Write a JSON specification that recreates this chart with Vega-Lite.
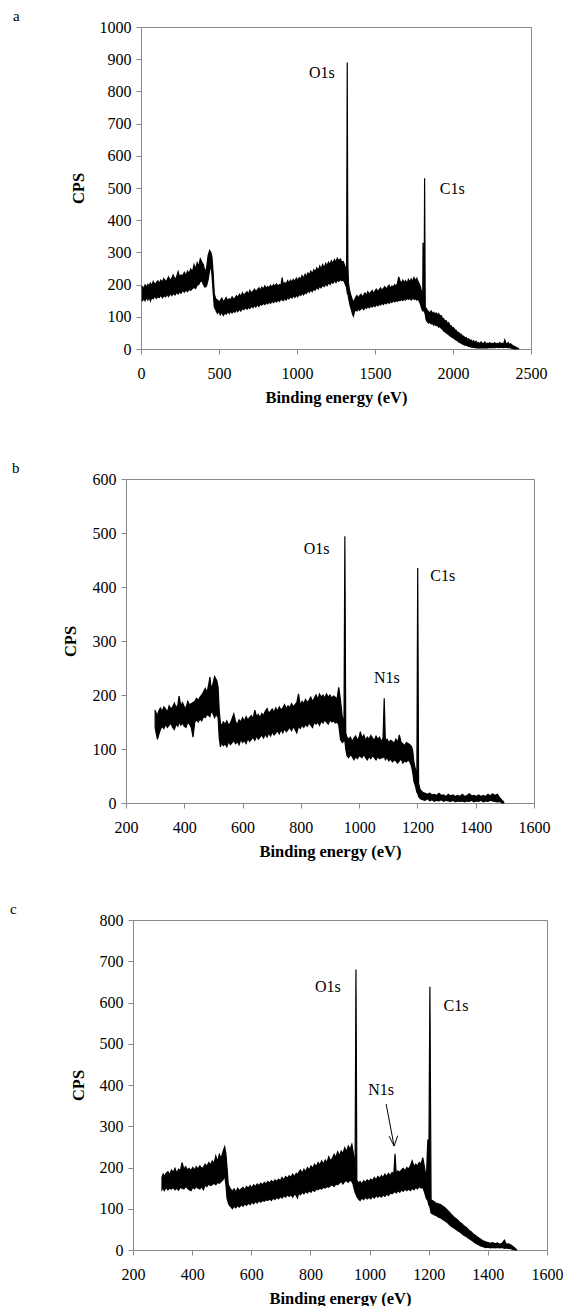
{
  "$schema": "https://vega.github.io/schema/vega-lite/v6.json",
  "background": "white",
  "padding": {"left": 10, "top": 9, "right": 0, "bottom": 0},
  "config": {
    "font": "Liberation Serif",
    "view": {"stroke": null},
    "axis": {
      "grid": false,
      "domainColor": "#898989",
      "tickColor": "#898989",
      "domainWidth": 1,
      "tickWidth": 1,
      "tickSize": 5,
      "labelFont": "Liberation Serif",
      "labelFontSize": 16,
      "labelColor": "#000000",
      "labelFlush": false,
      "labelOverlap": false,
      "titleFont": "Liberation Serif",
      "titleFontSize": 16.5,
      "titleFontWeight": "bold",
      "titleColor": "#000000"
    },
    "title": {"font": "Liberation Serif", "fontSize": 15, "fontWeight": "normal", "color": "#000000"}
  },
  "datasets": {
    "surveyA": [
      {"eV":8,"low":148,"high":196},{"eV":18,"low":158,"high":186},{"eV":26,"low":150,"high":199},{"eV":35,"low":160,"high":192},
      {"eV":44,"low":152,"high":201},{"eV":52,"low":163,"high":196},{"eV":60,"low":149,"high":205},{"eV":70,"low":160,"high":197},
      {"eV":78,"low":156,"high":210},{"eV":90,"low":165,"high":200},{"eV":98,"low":157,"high":206},{"eV":108,"low":162,"high":212},
      {"eV":118,"low":160,"high":203},{"eV":126,"low":168,"high":214},{"eV":138,"low":159,"high":208},{"eV":146,"low":166,"high":219},
      {"eV":158,"low":162,"high":210},{"eV":168,"low":171,"high":215},{"eV":176,"low":163,"high":224},{"eV":188,"low":172,"high":212},
      {"eV":198,"low":166,"high":221},{"eV":206,"low":174,"high":230},{"eV":218,"low":168,"high":216},{"eV":228,"low":176,"high":224},
      {"eV":238,"low":171,"high":240},{"eV":248,"low":179,"high":222},{"eV":256,"low":173,"high":230},{"eV":268,"low":182,"high":228},
      {"eV":278,"low":176,"high":238},{"eV":288,"low":184,"high":228},{"eV":298,"low":178,"high":242},{"eV":308,"low":186,"high":234},
      {"eV":318,"low":182,"high":248},{"eV":330,"low":188,"high":240},{"eV":340,"low":192,"high":262},{"eV":350,"low":188,"high":248},
      {"eV":360,"low":198,"high":268},{"eV":370,"low":200,"high":256},{"eV":380,"low":210,"high":280},{"eV":390,"low":212,"high":270},
      {"eV":400,"low":200,"high":262},{"eV":410,"low":192,"high":240},{"eV":420,"low":196,"high":250},{"eV":430,"low":215,"high":290},
      {"eV":440,"low":245,"high":306},{"eV":448,"low":260,"high":300},{"eV":455,"low":230,"high":285},{"eV":462,"low":180,"high":240},
      {"eV":470,"low":130,"high":170},{"eV":480,"low":120,"high":155},{"eV":490,"low":110,"high":152},{"eV":500,"low":118,"high":146},
      {"eV":508,"low":106,"high":150},{"eV":518,"low":114,"high":158},{"eV":528,"low":104,"high":147},{"eV":538,"low":112,"high":153},
      {"eV":546,"low":108,"high":160},{"eV":556,"low":116,"high":150},{"eV":566,"low":110,"high":156},{"eV":574,"low":118,"high":152},
      {"eV":584,"low":112,"high":162},{"eV":594,"low":118,"high":155},{"eV":602,"low":114,"high":158},{"eV":612,"low":122,"high":166},
      {"eV":620,"low":116,"high":160},{"eV":632,"low":124,"high":170},{"eV":640,"low":118,"high":162},{"eV":650,"low":126,"high":175},
      {"eV":660,"low":122,"high":166},{"eV":668,"low":128,"high":172},{"eV":680,"low":124,"high":178},{"eV":690,"low":130,"high":170},
      {"eV":698,"low":126,"high":182},{"eV":708,"low":134,"high":174},{"eV":718,"low":128,"high":180},{"eV":728,"low":136,"high":186},
      {"eV":736,"low":130,"high":178},{"eV":746,"low":138,"high":184},{"eV":756,"low":132,"high":190},{"eV":766,"low":140,"high":182},
      {"eV":774,"low":136,"high":192},{"eV":784,"low":142,"high":186},{"eV":794,"low":138,"high":196},{"eV":802,"low":144,"high":188},
      {"eV":812,"low":140,"high":194},{"eV":822,"low":146,"high":190},{"eV":830,"low":142,"high":198},{"eV":840,"low":148,"high":192},
      {"eV":850,"low":144,"high":200},{"eV":860,"low":150,"high":194},{"eV":868,"low":146,"high":202},{"eV":878,"low":152,"high":196},
      {"eV":888,"low":148,"high":200},{"eV":896,"low":154,"high":195},{"eV":905,"low":152,"high":222},{"eV":912,"low":150,"high":200},
      {"eV":922,"low":158,"high":206},{"eV":930,"low":152,"high":202},{"eV":940,"low":160,"high":212},{"eV":948,"low":156,"high":204},
      {"eV":958,"low":162,"high":214},{"eV":968,"low":158,"high":208},{"eV":976,"low":166,"high":216},{"eV":986,"low":160,"high":210},
      {"eV":996,"low":168,"high":220},{"eV":1004,"low":162,"high":212},{"eV":1014,"low":170,"high":222},{"eV":1024,"low":166,"high":216},
      {"eV":1032,"low":174,"high":228},{"eV":1042,"low":168,"high":220},{"eV":1052,"low":176,"high":232},{"eV":1060,"low":172,"high":224},
      {"eV":1070,"low":180,"high":236},{"eV":1080,"low":176,"high":230},{"eV":1088,"low":184,"high":242},{"eV":1098,"low":178,"high":234},
      {"eV":1108,"low":188,"high":246},{"eV":1116,"low":182,"high":238},{"eV":1126,"low":192,"high":252},{"eV":1136,"low":186,"high":244},
      {"eV":1146,"low":196,"high":258},{"eV":1154,"low":190,"high":248},{"eV":1164,"low":198,"high":262},{"eV":1174,"low":194,"high":252},
      {"eV":1184,"low":202,"high":266},{"eV":1192,"low":196,"high":258},{"eV":1202,"low":206,"high":270},{"eV":1212,"low":200,"high":262},
      {"eV":1220,"low":208,"high":274},{"eV":1230,"low":204,"high":266},{"eV":1240,"low":212,"high":278},{"eV":1250,"low":206,"high":270},
      {"eV":1258,"low":214,"high":282},{"eV":1268,"low":210,"high":274},{"eV":1278,"low":216,"high":280},{"eV":1286,"low":212,"high":270},
      {"eV":1296,"low":214,"high":272},{"eV":1304,"low":208,"high":262},{"eV":1312,"low":198,"high":250},{"eV":1318,"low":190,"high":240},
      {"eV":1322,"low":175,"high":890},{"eV":1326,"low":170,"high":262},{"eV":1330,"low":160,"high":205},{"eV":1336,"low":145,"high":185},
      {"eV":1342,"low":132,"high":172},{"eV":1350,"low":120,"high":160},{"eV":1356,"low":108,"high":150},{"eV":1362,"low":102,"high":146},
      {"eV":1368,"low":116,"high":152},{"eV":1376,"low":122,"high":160},{"eV":1384,"low":118,"high":166},{"eV":1392,"low":126,"high":158},
      {"eV":1400,"low":120,"high":164},{"eV":1410,"low":124,"high":170},{"eV":1418,"low":128,"high":162},{"eV":1428,"low":122,"high":168},
      {"eV":1436,"low":130,"high":174},{"eV":1446,"low":126,"high":166},{"eV":1454,"low":132,"high":178},{"eV":1464,"low":128,"high":170},
      {"eV":1472,"low":134,"high":176},{"eV":1482,"low":130,"high":182},{"eV":1490,"low":136,"high":172},{"eV":1500,"low":132,"high":180},
      {"eV":1508,"low":138,"high":186},{"eV":1518,"low":134,"high":178},{"eV":1526,"low":140,"high":184},{"eV":1536,"low":136,"high":190},
      {"eV":1544,"low":142,"high":182},{"eV":1554,"low":138,"high":188},{"eV":1562,"low":144,"high":194},{"eV":1572,"low":140,"high":186},
      {"eV":1580,"low":146,"high":192},{"eV":1590,"low":142,"high":198},{"eV":1598,"low":148,"high":188},{"eV":1608,"low":144,"high":196},
      {"eV":1616,"low":150,"high":192},{"eV":1626,"low":146,"high":200},{"eV":1634,"low":150,"high":194},{"eV":1644,"low":148,"high":204},
      {"eV":1652,"low":152,"high":224},{"eV":1660,"low":150,"high":212},{"eV":1670,"low":154,"high":204},{"eV":1678,"low":150,"high":214},
      {"eV":1688,"low":156,"high":206},{"eV":1696,"low":152,"high":212},{"eV":1706,"low":158,"high":204},{"eV":1714,"low":154,"high":216},
      {"eV":1724,"low":158,"high":208},{"eV":1732,"low":152,"high":218},{"eV":1742,"low":158,"high":210},{"eV":1750,"low":154,"high":222},
      {"eV":1760,"low":156,"high":212},{"eV":1768,"low":152,"high":220},{"eV":1776,"low":156,"high":210},{"eV":1784,"low":148,"high":202},
      {"eV":1792,"low":138,"high":192},{"eV":1800,"low":125,"high":172},{"eV":1806,"low":118,"high":150},{"eV":1808,"low":118,"high":330},
      {"eV":1811,"low":120,"high":200},{"eV":1815,"low":118,"high":180},{"eV":1818,"low":115,"high":530},{"eV":1822,"low":108,"high":130},
      {"eV":1828,"low":90,"high":126},{"eV":1836,"low":84,"high":120},{"eV":1844,"low":80,"high":116},{"eV":1852,"low":84,"high":112},
      {"eV":1860,"low":78,"high":118},{"eV":1868,"low":80,"high":110},{"eV":1876,"low":74,"high":114},{"eV":1884,"low":78,"high":108},
      {"eV":1892,"low":72,"high":112},{"eV":1900,"low":74,"high":106},{"eV":1908,"low":68,"high":110},{"eV":1916,"low":70,"high":102},
      {"eV":1924,"low":64,"high":104},{"eV":1932,"low":62,"high":96},{"eV":1940,"low":56,"high":94},{"eV":1948,"low":54,"high":86},
      {"eV":1956,"low":50,"high":88},{"eV":1964,"low":48,"high":80},{"eV":1972,"low":44,"high":82},{"eV":1980,"low":42,"high":74},
      {"eV":1988,"low":38,"high":72},{"eV":1996,"low":36,"high":66},{"eV":2004,"low":34,"high":66},{"eV":2012,"low":30,"high":60},
      {"eV":2020,"low":28,"high":58},{"eV":2028,"low":26,"high":52},{"eV":2036,"low":22,"high":52},{"eV":2044,"low":20,"high":46},
      {"eV":2052,"low":18,"high":46},{"eV":2060,"low":16,"high":40},{"eV":2068,"low":14,"high":40},{"eV":2076,"low":12,"high":34},
      {"eV":2084,"low":12,"high":36},{"eV":2092,"low":10,"high":30},{"eV":2100,"low":8,"high":32},{"eV":2108,"low":8,"high":26},
      {"eV":2116,"low":6,"high":28},{"eV":2124,"low":6,"high":22},{"eV":2132,"low":5,"high":26},{"eV":2140,"low":4,"high":20},
      {"eV":2148,"low":4,"high":24},{"eV":2156,"low":3,"high":18},{"eV":2164,"low":4,"high":20},{"eV":2172,"low":3,"high":16},
      {"eV":2180,"low":4,"high":22},{"eV":2188,"low":3,"high":16},{"eV":2196,"low":4,"high":18},{"eV":2204,"low":3,"high":22},
      {"eV":2212,"low":4,"high":15},{"eV":2220,"low":3,"high":18},{"eV":2228,"low":5,"high":16},{"eV":2236,"low":4,"high":20},
      {"eV":2244,"low":5,"high":15},{"eV":2252,"low":4,"high":18},{"eV":2260,"low":5,"high":16},{"eV":2268,"low":4,"high":20},
      {"eV":2276,"low":5,"high":15},{"eV":2284,"low":6,"high":18},{"eV":2292,"low":4,"high":16},{"eV":2300,"low":5,"high":20},
      {"eV":2308,"low":6,"high":16},{"eV":2316,"low":5,"high":18},{"eV":2324,"low":4,"high":15},{"eV":2332,"low":5,"high":28},
      {"eV":2338,"low":6,"high":18},{"eV":2346,"low":4,"high":16},{"eV":2354,"low":5,"high":20},{"eV":2362,"low":4,"high":14},
      {"eV":2370,"low":3,"high":16},{"eV":2378,"low":2,"high":12},{"eV":2386,"low":2,"high":10},{"eV":2394,"low":0,"high":8},
      {"eV":2402,"low":0,"high":6},{"eV":2410,"low":0,"high":4},{"eV":2420,"low":0,"high":2}
    ],
    "surveyB": [
      {"eV":300,"low":140,"high":172},{"eV":304,"low":128,"high":166},{"eV":308,"low":118,"high":162},{"eV":312,"low":126,"high":170},
      {"eV":318,"low":136,"high":176},{"eV":324,"low":142,"high":170},{"eV":330,"low":138,"high":178},{"eV":336,"low":146,"high":174},
      {"eV":342,"low":140,"high":168},{"eV":348,"low":144,"high":180},{"eV":354,"low":148,"high":174},{"eV":360,"low":140,"high":178},
      {"eV":366,"low":136,"high":185},{"eV":372,"low":146,"high":176},{"eV":378,"low":142,"high":182},{"eV":382,"low":150,"high":198},
      {"eV":388,"low":144,"high":180},{"eV":394,"low":148,"high":186},{"eV":400,"low":142,"high":178},{"eV":406,"low":140,"high":176},
      {"eV":412,"low":150,"high":188},{"eV":418,"low":146,"high":182},{"eV":424,"low":140,"high":184},{"eV":430,"low":122,"high":186},
      {"eV":436,"low":150,"high":188},{"eV":442,"low":154,"high":194},{"eV":448,"low":150,"high":190},{"eV":454,"low":156,"high":196},
      {"eV":460,"low":152,"high":200},{"eV":466,"low":160,"high":206},{"eV":472,"low":158,"high":212},{"eV":478,"low":164,"high":204},
      {"eV":484,"low":162,"high":220},{"eV":488,"low":160,"high":233},{"eV":492,"low":170,"high":212},{"eV":498,"low":166,"high":220},
      {"eV":504,"low":158,"high":234},{"eV":508,"low":164,"high":230},{"eV":512,"low":162,"high":226},{"eV":516,"low":158,"high":214},
      {"eV":520,"low":120,"high":170},{"eV":524,"low":104,"high":148},{"eV":528,"low":112,"high":142},{"eV":534,"low":106,"high":150},
      {"eV":540,"low":110,"high":146},{"eV":546,"low":104,"high":152},{"eV":552,"low":114,"high":144},{"eV":558,"low":108,"high":148},
      {"eV":564,"low":112,"high":156},{"eV":570,"low":116,"high":165},{"eV":576,"low":110,"high":150},{"eV":582,"low":114,"high":146},
      {"eV":588,"low":108,"high":154},{"eV":594,"low":118,"high":150},{"eV":600,"low":112,"high":158},{"eV":606,"low":116,"high":152},
      {"eV":612,"low":110,"high":160},{"eV":618,"low":120,"high":154},{"eV":624,"low":114,"high":158},{"eV":630,"low":118,"high":162},
      {"eV":636,"low":122,"high":156},{"eV":642,"low":116,"high":172},{"eV":648,"low":124,"high":160},{"eV":654,"low":118,"high":164},
      {"eV":660,"low":122,"high":158},{"eV":666,"low":126,"high":166},{"eV":672,"low":120,"high":162},{"eV":678,"low":128,"high":170},
      {"eV":684,"low":122,"high":175},{"eV":690,"low":130,"high":166},{"eV":696,"low":124,"high":170},{"eV":702,"low":132,"high":174},
      {"eV":708,"low":126,"high":168},{"eV":714,"low":130,"high":176},{"eV":720,"low":134,"high":170},{"eV":726,"low":128,"high":178},
      {"eV":732,"low":136,"high":172},{"eV":738,"low":130,"high":176},{"eV":744,"low":138,"high":182},{"eV":750,"low":132,"high":174},
      {"eV":756,"low":136,"high":180},{"eV":762,"low":140,"high":176},{"eV":768,"low":134,"high":184},{"eV":774,"low":142,"high":178},
      {"eV":780,"low":136,"high":182},{"eV":786,"low":130,"high":186},{"eV":792,"low":142,"high":202},{"eV":798,"low":138,"high":180},
      {"eV":804,"low":144,"high":188},{"eV":810,"low":140,"high":184},{"eV":816,"low":146,"high":192},{"eV":822,"low":142,"high":186},
      {"eV":828,"low":148,"high":190},{"eV":834,"low":144,"high":196},{"eV":840,"low":140,"high":188},{"eV":846,"low":150,"high":194},
      {"eV":852,"low":146,"high":200},{"eV":858,"low":150,"high":192},{"eV":864,"low":144,"high":202},{"eV":870,"low":152,"high":196},
      {"eV":876,"low":148,"high":200},{"eV":882,"low":154,"high":194},{"eV":888,"low":150,"high":202},{"eV":894,"low":146,"high":196},
      {"eV":900,"low":154,"high":200},{"eV":906,"low":150,"high":194},{"eV":912,"low":152,"high":198},{"eV":918,"low":148,"high":196},
      {"eV":924,"low":150,"high":192},{"eV":930,"low":145,"high":214},{"eV":936,"low":118,"high":190},{"eV":942,"low":112,"high":160},
      {"eV":948,"low":115,"high":150},{"eV":951,"low":116,"high":494},{"eV":954,"low":100,"high":130},{"eV":958,"low":88,"high":122},
      {"eV":964,"low":84,"high":118},{"eV":970,"low":90,"high":122},{"eV":976,"low":86,"high":114},{"eV":982,"low":80,"high":120},
      {"eV":988,"low":86,"high":124},{"eV":994,"low":82,"high":116},{"eV":1000,"low":88,"high":122},{"eV":1004,"low":86,"high":132},
      {"eV":1010,"low":84,"high":120},{"eV":1016,"low":90,"high":126},{"eV":1022,"low":84,"high":116},{"eV":1028,"low":80,"high":122},
      {"eV":1034,"low":86,"high":118},{"eV":1040,"low":82,"high":125},{"eV":1046,"low":88,"high":120},{"eV":1052,"low":84,"high":116},
      {"eV":1058,"low":80,"high":124},{"eV":1064,"low":86,"high":118},{"eV":1070,"low":82,"high":122},{"eV":1076,"low":84,"high":114},
      {"eV":1082,"low":84,"high":120},{"eV":1086,"low":88,"high":194},{"eV":1090,"low":80,"high":115},{"eV":1096,"low":84,"high":118},
      {"eV":1102,"low":78,"high":112},{"eV":1108,"low":82,"high":116},{"eV":1114,"low":76,"high":114},{"eV":1120,"low":80,"high":110},
      {"eV":1126,"low":78,"high":118},{"eV":1132,"low":74,"high":112},{"eV":1138,"low":78,"high":126},{"eV":1144,"low":82,"high":112},
      {"eV":1150,"low":74,"high":110},{"eV":1156,"low":78,"high":106},{"eV":1162,"low":76,"high":112},{"eV":1168,"low":80,"high":110},
      {"eV":1174,"low":76,"high":108},{"eV":1180,"low":68,"high":104},{"eV":1184,"low":56,"high":96},{"eV":1188,"low":40,"high":75},
      {"eV":1194,"low":30,"high":60},{"eV":1198,"low":20,"high":40},{"eV":1201,"low":18,"high":435},{"eV":1204,"low":12,"high":36},
      {"eV":1210,"low":8,"high":24},{"eV":1218,"low":6,"high":20},{"eV":1226,"low":5,"high":18},{"eV":1234,"low":8,"high":16},
      {"eV":1242,"low":4,"high":18},{"eV":1250,"low":6,"high":15},{"eV":1258,"low":3,"high":16},{"eV":1266,"low":5,"high":14},
      {"eV":1274,"low":4,"high":18},{"eV":1282,"low":6,"high":14},{"eV":1290,"low":3,"high":15},{"eV":1298,"low":5,"high":12},
      {"eV":1306,"low":4,"high":16},{"eV":1314,"low":3,"high":13},{"eV":1322,"low":5,"high":15},{"eV":1330,"low":2,"high":12},
      {"eV":1338,"low":4,"high":14},{"eV":1346,"low":3,"high":12},{"eV":1354,"low":4,"high":16},{"eV":1362,"low":2,"high":12},
      {"eV":1370,"low":4,"high":14},{"eV":1378,"low":3,"high":17},{"eV":1386,"low":5,"high":13},{"eV":1394,"low":2,"high":14},
      {"eV":1402,"low":4,"high":12},{"eV":1410,"low":3,"high":15},{"eV":1418,"low":5,"high":12},{"eV":1426,"low":2,"high":14},
      {"eV":1434,"low":4,"high":12},{"eV":1442,"low":3,"high":16},{"eV":1450,"low":5,"high":13},{"eV":1458,"low":4,"high":17},
      {"eV":1466,"low":3,"high":14},{"eV":1474,"low":2,"high":16},{"eV":1482,"low":3,"high":10},{"eV":1490,"low":0,"high":5},
      {"eV":1496,"low":0,"high":2}
    ],
    "surveyC": [
      {"eV":298,"low":146,"high":176},{"eV":302,"low":150,"high":184},{"eV":306,"low":144,"high":178},{"eV":312,"low":152,"high":186},
      {"eV":318,"low":146,"high":190},{"eV":324,"low":150,"high":182},{"eV":330,"low":148,"high":194},{"eV":336,"low":152,"high":188},
      {"eV":342,"low":146,"high":198},{"eV":348,"low":150,"high":186},{"eV":354,"low":145,"high":196},{"eV":360,"low":152,"high":192},
      {"eV":366,"low":150,"high":212},{"eV":372,"low":148,"high":196},{"eV":378,"low":154,"high":202},{"eV":384,"low":150,"high":194},
      {"eV":390,"low":146,"high":198},{"eV":396,"low":144,"high":192},{"eV":402,"low":152,"high":200},{"eV":408,"low":148,"high":194},
      {"eV":414,"low":154,"high":202},{"eV":420,"low":150,"high":196},{"eV":426,"low":148,"high":204},{"eV":432,"low":154,"high":198},
      {"eV":438,"low":146,"high":200},{"eV":444,"low":158,"high":208},{"eV":450,"low":154,"high":202},{"eV":456,"low":160,"high":212},
      {"eV":462,"low":156,"high":206},{"eV":468,"low":158,"high":216},{"eV":474,"low":162,"high":210},{"eV":480,"low":158,"high":228},
      {"eV":486,"low":164,"high":214},{"eV":492,"low":162,"high":232},{"eV":498,"low":166,"high":222},{"eV":504,"low":170,"high":238},
      {"eV":510,"low":180,"high":250},{"eV":514,"low":160,"high":235},{"eV":518,"low":125,"high":200},{"eV":522,"low":115,"high":160},
      {"eV":526,"low":108,"high":152},{"eV":532,"low":104,"high":146},{"eV":536,"low":100,"high":142},{"eV":542,"low":106,"high":148},
      {"eV":548,"low":102,"high":140},{"eV":554,"low":108,"high":150},{"eV":560,"low":104,"high":144},{"eV":566,"low":110,"high":148},
      {"eV":572,"low":106,"high":152},{"eV":578,"low":112,"high":146},{"eV":584,"low":108,"high":154},{"eV":590,"low":114,"high":150},
      {"eV":596,"low":110,"high":156},{"eV":602,"low":116,"high":150},{"eV":608,"low":112,"high":158},{"eV":614,"low":118,"high":154},
      {"eV":620,"low":114,"high":160},{"eV":626,"low":120,"high":156},{"eV":632,"low":116,"high":162},{"eV":638,"low":120,"high":158},
      {"eV":644,"low":118,"high":164},{"eV":650,"low":122,"high":160},{"eV":656,"low":120,"high":166},{"eV":662,"low":124,"high":162},
      {"eV":668,"low":120,"high":168},{"eV":674,"low":126,"high":164},{"eV":680,"low":122,"high":170},{"eV":686,"low":128,"high":166},
      {"eV":692,"low":124,"high":172},{"eV":698,"low":130,"high":168},{"eV":704,"low":126,"high":176},{"eV":710,"low":132,"high":170},
      {"eV":716,"low":128,"high":178},{"eV":722,"low":134,"high":174},{"eV":728,"low":130,"high":180},{"eV":734,"low":134,"high":176},
      {"eV":740,"low":128,"high":184},{"eV":746,"low":136,"high":178},{"eV":752,"low":132,"high":186},{"eV":756,"low":126,"high":182},
      {"eV":760,"low":138,"high":188},{"eV":766,"low":134,"high":194},{"eV":772,"low":140,"high":186},{"eV":778,"low":136,"high":196},
      {"eV":784,"low":142,"high":190},{"eV":790,"low":138,"high":200},{"eV":796,"low":144,"high":194},{"eV":802,"low":140,"high":204},
      {"eV":808,"low":146,"high":198},{"eV":814,"low":142,"high":208},{"eV":820,"low":148,"high":202},{"eV":826,"low":146,"high":212},
      {"eV":832,"low":150,"high":206},{"eV":838,"low":148,"high":216},{"eV":844,"low":152,"high":208},{"eV":850,"low":150,"high":218},
      {"eV":856,"low":154,"high":212},{"eV":862,"low":152,"high":226},{"eV":868,"low":156,"high":216},{"eV":874,"low":158,"high":222},
      {"eV":880,"low":154,"high":232},{"eV":886,"low":160,"high":224},{"eV":892,"low":158,"high":238},{"eV":898,"low":162,"high":228},
      {"eV":904,"low":166,"high":240},{"eV":910,"low":160,"high":234},{"eV":916,"low":166,"high":248},{"eV":922,"low":168,"high":238},
      {"eV":928,"low":164,"high":252},{"eV":934,"low":170,"high":244},{"eV":940,"low":166,"high":256},{"eV":944,"low":160,"high":240},
      {"eV":948,"low":148,"high":220},{"eV":951,"low":140,"high":200},{"eV":954,"low":135,"high":680},{"eV":957,"low":130,"high":170},
      {"eV":962,"low":124,"high":162},{"eV":968,"low":120,"high":166},{"eV":974,"low":126,"high":160},{"eV":980,"low":122,"high":168},
      {"eV":986,"low":128,"high":164},{"eV":992,"low":124,"high":170},{"eV":998,"low":128,"high":166},{"eV":1004,"low":124,"high":172},
      {"eV":1010,"low":130,"high":168},{"eV":1016,"low":126,"high":176},{"eV":1022,"low":132,"high":170},{"eV":1028,"low":128,"high":178},
      {"eV":1034,"low":132,"high":174},{"eV":1040,"low":128,"high":180},{"eV":1046,"low":134,"high":176},{"eV":1052,"low":130,"high":184},
      {"eV":1058,"low":136,"high":178},{"eV":1064,"low":132,"high":186},{"eV":1070,"low":138,"high":180},{"eV":1076,"low":136,"high":188},
      {"eV":1082,"low":140,"high":184},{"eV":1086,"low":142,"high":233},{"eV":1090,"low":138,"high":186},{"eV":1096,"low":144,"high":192},
      {"eV":1102,"low":140,"high":188},{"eV":1108,"low":146,"high":194},{"eV":1114,"low":142,"high":198},{"eV":1120,"low":148,"high":192},
      {"eV":1126,"low":144,"high":200},{"eV":1132,"low":148,"high":196},{"eV":1138,"low":144,"high":204},{"eV":1144,"low":150,"high":216},
      {"eV":1150,"low":146,"high":202},{"eV":1156,"low":152,"high":208},{"eV":1162,"low":148,"high":204},{"eV":1168,"low":154,"high":212},
      {"eV":1174,"low":150,"high":208},{"eV":1180,"low":152,"high":224},{"eV":1186,"low":140,"high":200},{"eV":1192,"low":125,"high":170},
      {"eV":1197,"low":120,"high":268},{"eV":1200,"low":110,"high":150},{"eV":1204,"low":105,"high":638},{"eV":1208,"low":90,"high":122},
      {"eV":1216,"low":86,"high":118},{"eV":1224,"low":84,"high":114},{"eV":1232,"low":80,"high":112},{"eV":1240,"low":78,"high":110},
      {"eV":1248,"low":74,"high":106},{"eV":1256,"low":70,"high":102},{"eV":1264,"low":66,"high":96},{"eV":1272,"low":60,"high":90},
      {"eV":1280,"low":56,"high":84},{"eV":1288,"low":52,"high":78},{"eV":1296,"low":48,"high":74},{"eV":1304,"low":44,"high":68},
      {"eV":1312,"low":40,"high":64},{"eV":1320,"low":35,"high":58},{"eV":1328,"low":32,"high":54},{"eV":1336,"low":28,"high":48},
      {"eV":1344,"low":24,"high":44},{"eV":1352,"low":20,"high":38},{"eV":1360,"low":16,"high":34},{"eV":1368,"low":13,"high":30},
      {"eV":1376,"low":10,"high":26},{"eV":1384,"low":8,"high":22},{"eV":1392,"low":6,"high":20},{"eV":1400,"low":7,"high":18},
      {"eV":1408,"low":5,"high":16},{"eV":1416,"low":6,"high":18},{"eV":1424,"low":5,"high":15},{"eV":1432,"low":6,"high":17},
      {"eV":1440,"low":5,"high":14},{"eV":1448,"low":6,"high":16},{"eV":1456,"low":4,"high":24},{"eV":1462,"low":5,"high":14},
      {"eV":1470,"low":4,"high":15},{"eV":1478,"low":3,"high":12},{"eV":1486,"low":1,"high":8},{"eV":1492,"low":0,"high":4},
      {"eV":1497,"low":0,"high":1}
    ],
    "peakLabels": [
      {"panel":"a","label":"O1s","eV":1160,"cps":857},
      {"panel":"a","label":"C1s","eV":1995,"cps":497},
      {"panel":"b","label":"O1s","eV":854,"cps":470},
      {"panel":"b","label":"N1s","eV":1095,"cps":231},
      {"panel":"b","label":"C1s","eV":1287,"cps":420},
      {"panel":"c","label":"O1s","eV":859,"cps":638},
      {"panel":"c","label":"N1s","eV":1039,"cps":388},
      {"panel":"c","label":"C1s","eV":1292,"cps":592}
    ],
    "arrowC": [
      {"eV":1056,"cps":354,"eV2":1083,"cps2":252},
      {"eV":1066,"cps":276,"eV2":1083,"cps2":252},
      {"eV":1095,"cps":277,"eV2":1083,"cps2":252}
    ]
  },
  "spacing": 55,
  "vconcat": [
    {
      "width": 405,
      "height": 322,
      "title": {"text": "a", "anchor": "start", "frame": "group", "dx": -113, "offset": -17, "baseline": "alphabetic"},
      "layer": [
        {
          "data": {"name": "surveyA"},
          "mark": {"type": "area", "color": "#000000", "stroke": "#000000", "strokeWidth": 1.2},
          "encoding": {
            "x": {"field": "eV", "type": "quantitative",
                  "scale": {"domain": [0, 2500], "range": [15, 405], "nice": false, "zero": false},
                  "axis": {"orient": "bottom", "values": [0, 500, 1000, 1500, 2000, 2500], "format": "d", "labelPadding": 11, "labelFlush": false,
                           "labelFont": "Liberation Serif", "titleFont": "Liberation Serif",
                           "title": "Binding energy (eV)", "titleX": 210, "titleY": 53, "titleBaseline": "alphabetic"}},
            "y": {"field": "low", "type": "quantitative",
                  "scale": {"domain": [0, 1000], "nice": false},
                  "axis": {"orient": "left", "offset": -15, "values": [0, 100, 200, 300, 400, 500, 600, 700, 800, 900, 1000], "format": "d", "labelPadding": 5,
                           "labelFont": "Liberation Serif", "titleFont": "Liberation Serif",
                           "title": "CPS", "titleX": -58, "titleY": 161, "titleBaseline": "alphabetic"}},
            "y2": {"field": "high"}
          }
        },
        {
          "data": {"name": "peakLabels"},
          "transform": [{"filter": "datum.panel === 'a'"}],
          "mark": {"type": "text", "font": "Liberation Serif", "fontSize": 16, "align": "center", "baseline": "middle", "color": "#000000"},
          "encoding": {
            "x": {"field": "eV", "type": "quantitative",
                  "scale": {"domain": [0, 2500], "range": [15, 405], "nice": false, "zero": false},
                  "axis": {"orient": "top", "labels": false, "ticks": false, "title": null, "minExtent": 0, "maxExtent": 0}},
            "y": {"field": "cps", "type": "quantitative",
                  "scale": {"domain": [0, 1000], "nice": false},
                  "axis": {"orient": "right", "labels": false, "ticks": false, "title": null, "minExtent": 0, "maxExtent": 0}},
            "text": {"field": "label"}
          }
        }
      ],
      "resolve": {"axis": {"x": "independent", "y": "independent"}}
    },
    {
      "spacing": 42,
      "vconcat": [
        {
          "width": 408,
          "height": 324,
          "title": {"text": "b", "anchor": "start", "frame": "group", "dx": -114, "offset": -17, "baseline": "alphabetic"},
          "layer": [
            {
              "data": {"name": "surveyB"},
              "mark": {"type": "area", "color": "#000000", "stroke": "#000000", "strokeWidth": 1.2},
              "encoding": {
                "x": {"field": "eV", "type": "quantitative",
                      "scale": {"domain": [200, 1600], "nice": false, "zero": false},
                      "axis": {"orient": "bottom", "values": [200, 400, 600, 800, 1000, 1200, 1400, 1600], "format": "d", "labelPadding": 11, "labelFlush": false,
                               "labelFont": "Liberation Serif", "titleFont": "Liberation Serif",
                               "title": "Binding energy (eV)", "titleX": 204, "titleY": 53, "titleBaseline": "alphabetic"}},
                "y": {"field": "low", "type": "quantitative",
                      "scale": {"domain": [0, 600], "nice": false},
                      "axis": {"orient": "left", "values": [0, 100, 200, 300, 400, 500, 600], "format": "d", "labelPadding": 5,
                               "labelFont": "Liberation Serif", "titleFont": "Liberation Serif",
                               "title": "CPS", "titleX": -51, "titleY": 162, "titleBaseline": "alphabetic"}},
                "y2": {"field": "high"}
              }
            },
            {
              "data": {"name": "peakLabels"},
              "transform": [{"filter": "datum.panel === 'b'"}],
              "mark": {"type": "text", "font": "Liberation Serif", "fontSize": 16, "align": "center", "baseline": "middle", "color": "#000000"},
              "encoding": {
                "x": {"field": "eV", "type": "quantitative",
                      "scale": {"domain": [200, 1600], "nice": false, "zero": false},
                      "axis": {"orient": "top", "labels": false, "ticks": false, "title": null, "minExtent": 0, "maxExtent": 0}},
                "y": {"field": "cps", "type": "quantitative",
                      "scale": {"domain": [0, 600], "nice": false},
                      "axis": {"orient": "right", "labels": false, "ticks": false, "title": null, "minExtent": 0, "maxExtent": 0}},
                "text": {"field": "label"}
              }
            }
          ],
          "resolve": {"axis": {"x": "independent", "y": "independent"}}
        },
        {
          "width": 421,
          "height": 330,
          "title": {"text": "c", "anchor": "start", "frame": "group", "dx": -116, "offset": -17, "baseline": "alphabetic"},
          "layer": [
            {
              "data": {"name": "surveyC"},
              "mark": {"type": "area", "color": "#000000", "stroke": "#000000", "strokeWidth": 1.2},
              "encoding": {
                "x": {"field": "eV", "type": "quantitative",
                      "scale": {"domain": [200, 1600], "range": [7, 421], "nice": false, "zero": false},
                      "axis": {"orient": "bottom", "values": [200, 400, 600, 800, 1000, 1200, 1400, 1600], "format": "d", "labelPadding": 11, "labelFlush": false,
                               "labelFont": "Liberation Serif", "titleFont": "Liberation Serif",
                               "title": "Binding energy (eV)", "titleX": 214, "titleY": 53, "titleBaseline": "alphabetic"}},
                "y": {"field": "low", "type": "quantitative",
                      "scale": {"domain": [0, 800], "nice": false},
                      "axis": {"orient": "left", "offset": -7, "values": [0, 100, 200, 300, 400, 500, 600, 700, 800], "format": "d", "labelPadding": 5,
                               "labelFont": "Liberation Serif", "titleFont": "Liberation Serif",
                               "title": "CPS", "titleX": -50, "titleY": 165, "titleBaseline": "alphabetic"}},
                "y2": {"field": "high"}
              }
            },
            {
              "data": {"name": "peakLabels"},
              "transform": [{"filter": "datum.panel === 'c'"}],
              "mark": {"type": "text", "font": "Liberation Serif", "fontSize": 16, "align": "center", "baseline": "middle", "color": "#000000"},
              "encoding": {
                "x": {"field": "eV", "type": "quantitative",
                      "scale": {"domain": [200, 1600], "range": [7, 421], "nice": false, "zero": false},
                      "axis": {"orient": "top", "labels": false, "ticks": false, "title": null, "minExtent": 0, "maxExtent": 0}},
                "y": {"field": "cps", "type": "quantitative",
                      "scale": {"domain": [0, 800], "nice": false},
                      "axis": {"orient": "right", "labels": false, "ticks": false, "title": null, "minExtent": 0, "maxExtent": 0}},
                "text": {"field": "label"}
              }
            },
            {
              "data": {"name": "arrowC"},
              "mark": {"type": "rule", "color": "#000000", "strokeWidth": 1},
              "encoding": {
                "x": {"field": "eV", "type": "quantitative",
                      "scale": {"domain": [200, 1600], "range": [7, 421], "nice": false, "zero": false}, "axis": null},
                "y": {"field": "cps", "type": "quantitative",
                      "scale": {"domain": [0, 800], "nice": false}, "axis": null},
                "x2": {"field": "eV2"},
                "y2": {"field": "cps2"}
              }
            }
          ],
          "resolve": {"axis": {"x": "independent", "y": "independent"}}
        }
      ]
    }
  ]
}
